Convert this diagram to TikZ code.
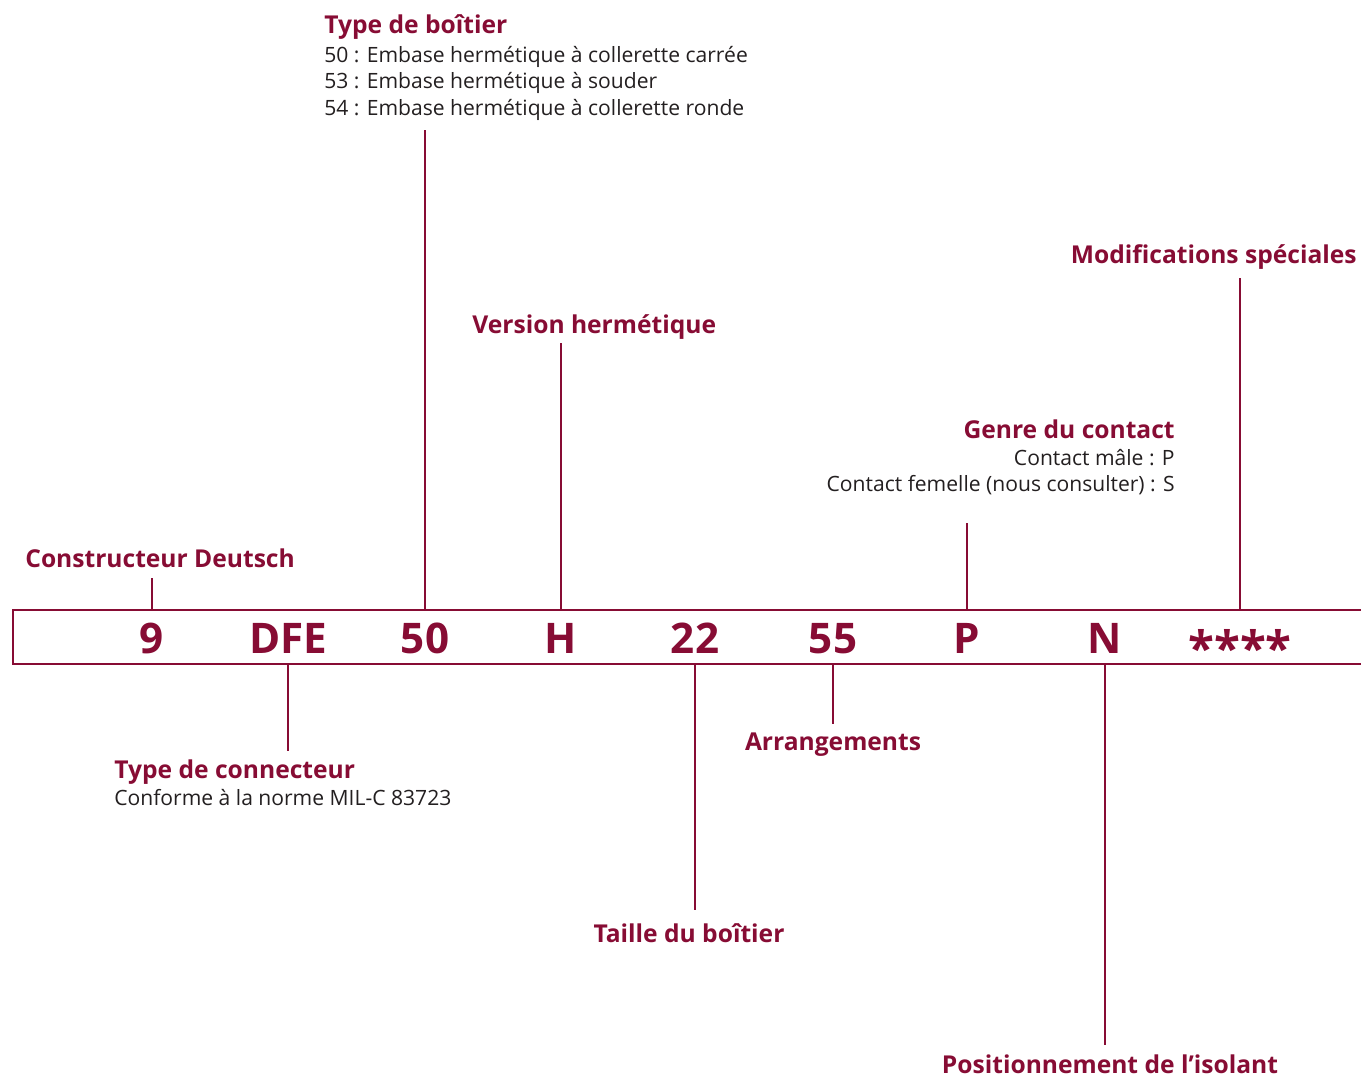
\documentclass[tikz,border=0pt]{standalone}
\usepackage{fontspec}
\setmainfont{Open Sans}
\definecolor{deutsch}{RGB}{135,12,52}
\definecolor{ink}{RGB}{35,31,32}

\begin{document}
\begin{tikzpicture}[x=0.02cm, y=-0.02cm, every node/.style={inner sep=0pt},
  code/.style={anchor=base, text=deutsch, font=\fontsize{24}{28}\selectfont\bfseries},
  head/.style={text=deutsch, font=\fontsize{14}{17}\selectfont\bfseries, text height=10pt, text depth=0pt},
  body/.style={text=ink, font=\fontsize{12}{15}\selectfont, text height=8.6pt, text depth=0pt},
  lead/.style={draw=deutsch, line width=1.2pt, shorten >=#1}]
\clip (0,0) rectangle (1361,1080);
\node[draw=deutsch, line width=1.3pt, anchor=north west, minimum width=28cm, minimum height=1.08cm] (bar) at (12,609) {};
\node[code] (c9) at (152,653) {9};
\node[code] (cDFE) at (288,653) {DFE};
\node[code] (c50) at (425,653) {50};
\node[code] (cH) at (561,653) {H};
\node[code] (c22) at (695,653) {22};
\node[code] (c55) at (833,653) {55};
\node[code] (cP) at (967,653) {P};
\node[code] (cN) at (1105,653) {N};
\node[code] (cMod) at (1240,653) {\fontsize{27}{30}\selectfont\raisebox{-0.27em}{****}};

\node[head, anchor=base west] (l9) at (25,567) {Constructeur Deutsch};
\node[head, anchor=base west] (l50) at (324,33) {Type de boîtier};
\node[body, anchor=base west] (l50a) at (324,62) {50 : Embase hermétique à collerette carrée};
\node[body, anchor=base west] (l50b) at (324,88) {53 : Embase hermétique à souder};
\node[body, anchor=base west] (l50c) at (324,115) {54 : Embase hermétique à collerette ronde};
\node[head, anchor=base west] (lH) at (472,333) {Version hermétique};
\node[head, anchor=base east] (lMod) at (1357,263) {Modifications spéciales};
\node[head, anchor=base east] (lP) at (1175,438) {Genre du contact};
\node[body, anchor=base east] (lPa) at (1175,465) {Contact mâle : P};
\node[body, anchor=base east] (lPb) at (1175,491) {Contact femelle (nous consulter) : S};
\node[head, anchor=base west] (lDFE) at (114,778) {Type de connecteur};
\node[body, anchor=base west] (lDFEa) at (114,805) {Conforme à la norme MIL-C 83723};
\node[head, anchor=base] (l55) at (833,750) {Arrangements};
\node[head, anchor=base] (l22) at (689,942) {Taille du boîtier};
\node[head, anchor=base] (lN) at (1110,1073) {Positionnement de l’isolant};

\draw[lead=0.22cm] (c9 |- bar.north) -- (c9 |- l9.south);
\draw[lead=0.3cm] (c50 |- bar.north) -- (c50 |- l50c.south);
\draw[lead=0.2cm] (cH |- bar.north) -- (cH |- lH.south);
\draw[lead=0.64cm] (cP |- bar.north) -- (cP |- lPb.south);
\draw[lead=0.3cm] (cMod |- bar.north) -- (cMod |- lMod.south);
\draw[lead=0.18cm] (cDFE |- bar.south) -- (cDFE |- lDFE.north);
\draw[lead=0.28cm] (c22 |- bar.south) -- (c22 |- l22.north);
\draw[lead=0.16cm] (c55 |- bar.south) -- (c55 |- l55.north);
\draw[lead=0.2cm] (cN |- bar.south) -- (cN |- lN.north);
\end{tikzpicture}
\end{document}
